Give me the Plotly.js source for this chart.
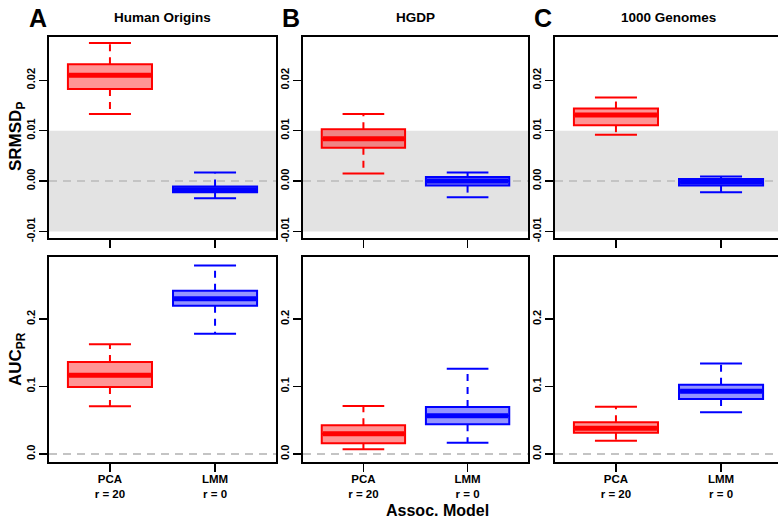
<!DOCTYPE html>
<html><head><meta charset="utf-8">
<script src="https://cdn.plot.ly/plotly-3.0.1.min.js"></script>
<style>html,body{margin:0;padding:0;overflow:hidden;background:#fff}#chart{width:784px;height:519px}</style>
</head><body><div id="chart"></div>
<script>
// ---- data ----
const datasets = ["Human Origins", "HGDP", "1000 Genomes"];
const panelLetters = ["A", "B", "C"];
const models = ["PCA", "LMM"];
const modelTickText = ["PCA<br>r = 20", "LMM<br>r = 0"];
const modelPos = [1, 2];
// each entry: [lower whisker, Q1, median, Q3, upper whisker], one per dataset
const srmsdPCA = [[0.0133, 0.0183, 0.0210, 0.0232, 0.0274],
                  [0.0015, 0.0066, 0.0084, 0.0103, 0.0133],
                  [0.0092, 0.0111, 0.0131, 0.0144, 0.0166]];
const srmsdLMM = [[-0.0034, -0.0022, -0.0017, -0.0011, 0.0017],
                  [-0.0032, -0.0009, 0.0000, 0.0008, 0.0017],
                  [-0.0022, -0.0009, -0.0002, 0.0004, 0.0009]];
const aucPCA = [[0.0707, 0.0993, 0.1166, 0.1363, 0.1625],
                [0.0069, 0.0158, 0.0301, 0.0425, 0.0711],
                [0.0197, 0.0316, 0.0380, 0.0469, 0.0701]];
const aucLMM = [[0.1783, 0.2197, 0.2301, 0.2420, 0.2795],
                [0.0168, 0.0440, 0.0568, 0.0696, 0.1264],
                [0.0618, 0.0815, 0.0929, 0.1027, 0.1343]];
const srmsdTicks = [-0.01, 0, 0.01, 0.02];
const srmsdTickText = ["-0.01", "0.00", "0.01", "0.02"];
const aucTicks = [0, 0.1, 0.2];
const aucTickText = ["0.0", "0.1", "0.2"];
const rowTitles = ["SRMSD<sub>P</sub>", "AUC<sub>PR</sub>"];
const xTitle = "Assoc. Model";

// ---- layout helpers ----
const W = 784, H = 519;
const FONT = "Liberation Sans, Arial, Helvetica, sans-serif";
const px = x => x / W, py = y => 1 - y / H;
const colPx = [[49, 276], [303, 528], [555, 782]];
const rowPx = [[37, 238], [257, 462]];
const colors = [{line: "#ff0000", fill: "rgba(255,0,0,0.42)"},
                {line: "#0000ff", fill: "rgba(0,0,255,0.42)"}];
const boxW = 0.8, capW = 0.4;

const traces = [], shapes = [], annotations = [];
const layout = {
  width: W, height: H, margin: {l: 0, r: 0, t: 0, b: 0},
  paper_bgcolor: "#fff", plot_bgcolor: "#fff", showlegend: false,
  font: {family: FONT, color: "#000"}
};

const metrics = [[srmsdPCA, srmsdLMM], [aucPCA, aucLMM]];
for (let r = 0; r < 2; r++) {
  for (let c = 0; c < 3; c++) {
    const idx = r * 3 + c + 1;
    const xa = idx === 1 ? "x" : "x" + idx, ya = idx === 1 ? "y" : "y" + idx;
    const xk = idx === 1 ? "xaxis" : "xaxis" + idx, yk = idx === 1 ? "yaxis" : "yaxis" + idx;
    layout[xk] = {
      domain: [px(colPx[c][0]), px(colPx[c][1])], anchor: ya,
      range: [0.42, 2.58], tickvals: modelPos, ticktext: modelTickText,
      showticklabels: r === 1, ticks: "outside", ticklen: 8, tickwidth: 1.5, tickcolor: "#000",
      ticklabelstandoff: -3,
      showline: true, mirror: true, linewidth: 2, linecolor: "#000",
      showgrid: false, zeroline: false, fixedrange: true,
      tickfont: {family: FONT, size: 11.5, weight: "bold", color: "#000"}
    };
    layout[yk] = {
      domain: [py(rowPx[r][1]), py(rowPx[r][0])], anchor: xa,
      range: r === 0 ? [-0.0113, 0.0286] : [-0.0119, 0.292],
      tickvals: r === 0 ? srmsdTicks : aucTicks,
      ticktext: r === 0 ? srmsdTickText : aucTickText,
      tickangle: -90, ticks: "outside", ticklen: 8, tickwidth: 1.5, tickcolor: "#000",
      showline: true, mirror: true, linewidth: 2, linecolor: "#000",
      showgrid: false, zeroline: false, fixedrange: true,
      tickfont: {family: FONT, size: 11, weight: "bold", color: "#000"}
    };
    if (r === 0) {
      shapes.push({type: "rect", xref: xa + " domain", yref: ya, x0: 0, x1: 1, y0: -0.01, y1: 0.01,
                   fillcolor: "#e3e3e3", line: {width: 0}, layer: "below"});
    }
    shapes.push({type: "line", xref: xa + " domain", yref: ya, x0: 0, x1: 1, y0: 0, y1: 0,
                 line: {color: "#c4c4c4", width: 2, dash: "8px,6px"}, layer: "below"});

    for (let m = 0; m < 2; m++) {
      const s = metrics[r][m][c];
      const p = modelPos[m];
      const col = colors[m];
      traces.push({type: "scatter", mode: "lines", xaxis: xa, yaxis: ya, hoverinfo: "skip",
        x: [p, p, null, p, p], y: [s[3], s[4], null, s[1], s[0]],
        line: {color: col.line, width: 2, dash: "7px,6px"}});
      traces.push({type: "box", xaxis: xa, yaxis: ya, name: models[m], x: [p],
        q1: [s[1]], median: [s[2]], q3: [s[3]], lowerfence: [s[1]], upperfence: [s[3]],
        width: boxW, whiskerwidth: 0, boxpoints: false, hoverinfo: "skip",
        fillcolor: col.fill, line: {color: col.line, width: 2}});
      traces.push({type: "scatter", mode: "lines", xaxis: xa, yaxis: ya, hoverinfo: "skip",
        x: [p - capW / 2, p + capW / 2, null, p - capW / 2, p + capW / 2],
        y: [s[4], s[4], null, s[0], s[0]],
        line: {color: col.line, width: 2}});
      traces.push({type: "scatter", mode: "lines", xaxis: xa, yaxis: ya, hoverinfo: "skip",
        x: [p - boxW / 2 + 0.01, p + boxW / 2 - 0.01], y: [s[2], s[2]],
        line: {color: col.line, width: 5}});
    }
  }
}

const letterX = [38, 291, 543];
for (let c = 0; c < 3; c++) {
  annotations.push({xref: "paper", yref: "paper", x: px(letterX[c]), y: py(18.5), text: panelLetters[c],
    showarrow: false, xanchor: "center", yanchor: "middle",
    font: {family: FONT, size: 25, weight: "bold", color: "#000"}});
  annotations.push({xref: "paper", yref: "paper", x: px((colPx[c][0] + colPx[c][1]) / 2), y: py(18),
    text: datasets[c], showarrow: false, xanchor: "center", yanchor: "middle",
    font: {family: FONT, size: 13.5, weight: "bold", color: "#000"}});
}
annotations.push({xref: "paper", yref: "paper", x: px(17), y: py(137), text: rowTitles[0], textangle: -90,
  showarrow: false, xanchor: "center", yanchor: "middle",
  font: {family: FONT, size: 17, weight: "bold", color: "#000"}});
annotations.push({xref: "paper", yref: "paper", x: px(17), y: py(359), text: rowTitles[1], textangle: -90,
  showarrow: false, xanchor: "center", yanchor: "middle",
  font: {family: FONT, size: 17, weight: "bold", color: "#000"}});
annotations.push({xref: "paper", yref: "paper", x: px(437), y: py(510), text: xTitle,
  showarrow: false, xanchor: "center", yanchor: "middle",
  font: {family: FONT, size: 16, weight: "bold", color: "#000"}});

layout.shapes = shapes;
layout.annotations = annotations;
layout.boxmode = "overlay";
Plotly.newPlot("chart", traces, layout, {displayModeBar: false, staticPlot: true});
</script>
</body></html>
